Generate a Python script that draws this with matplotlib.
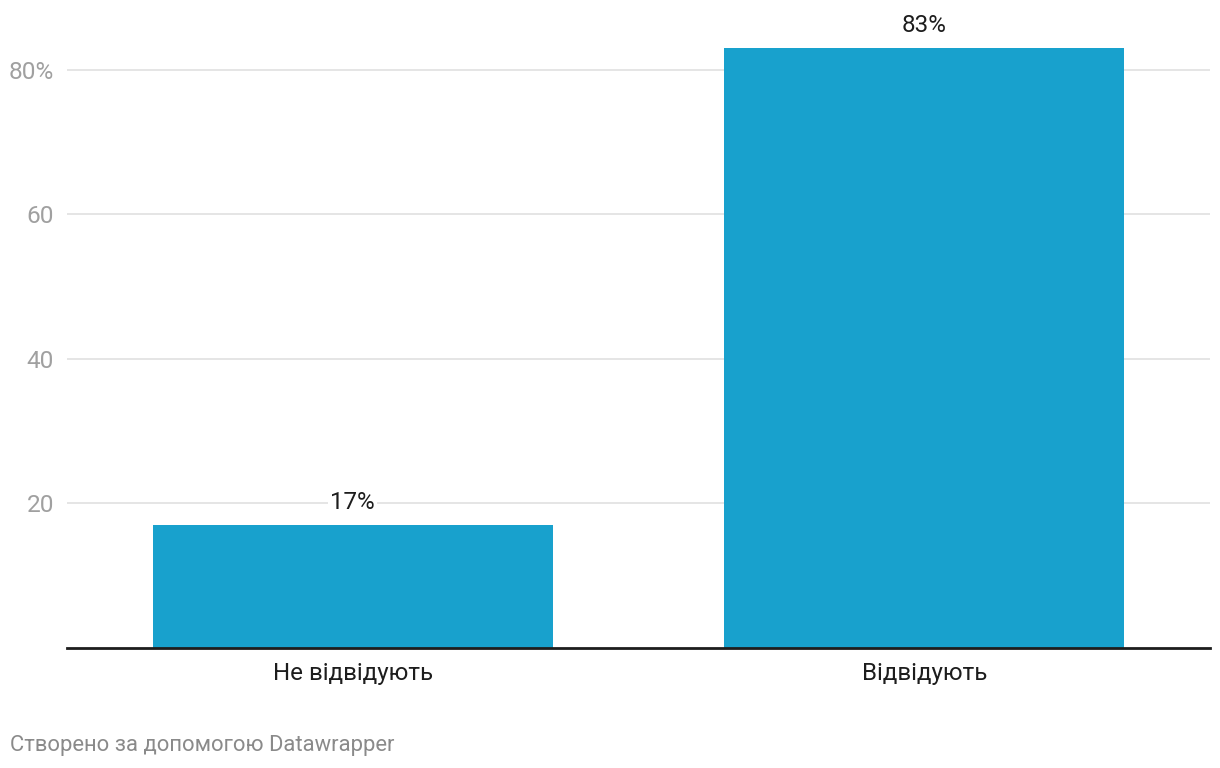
import numpy as np
import matplotlib
matplotlib.use("Agg")
import matplotlib.pyplot as plt

categories = ["Не відвідують", "Відвідують"]
values = [17, 83]
yticks = [20, 40, 60, 80]
ytick_labels = ["20", "40", "60", "80%"]
footer = "Створено за допомогою Datawrapper"

plt.rcParams['font.family'] = ['Roboto', 'DejaVu Sans']

fig = plt.figure(figsize=(12.2, 7.68), dpi=100)
ax = fig.add_axes([67 / 1220, 120 / 768, 1143 / 1220, (648 - 26.6) / 768])

x = np.arange(len(categories))
ax.bar(x, values, width=0.7, color="#18a1cd", zorder=2)

for xi, v in zip(x, values):
    ax.text(xi, v + 1.5, f"{v}%", ha="center", va="bottom", fontsize=17.4,
            color="#1d1d1d", zorder=3,
            bbox=dict(facecolor="white", edgecolor="none", pad=1.5))

ax.set_xlim(-0.5, 1.5)
ax.set_ylim(0, 86)
ax.set_yticks(yticks)
ax.set_yticklabels(ytick_labels)
ax.set_xticks(x)
ax.set_xticklabels(categories)
ax.yaxis.grid(True, color="#e3e3e3", linewidth=1.3, zorder=0)
ax.set_axisbelow(True)

for s in ["top", "right", "left"]:
    ax.spines[s].set_visible(False)
ax.spines["bottom"].set_color("#1d1d1d")
ax.spines["bottom"].set_linewidth(2)

ax.tick_params(axis="y", length=0, pad=9.4, labelsize=17.6, labelcolor="#a0a0a0")
ax.tick_params(axis="x", length=0, pad=10, labelsize=17.4, labelcolor="#1d1d1d")

fig.text(10 / 1220, 1 - 745 / 768, footer, ha="left", va="center",
         fontsize=15.8, color="#8a8a8a")

fig.savefig("out.png", dpi=100)
